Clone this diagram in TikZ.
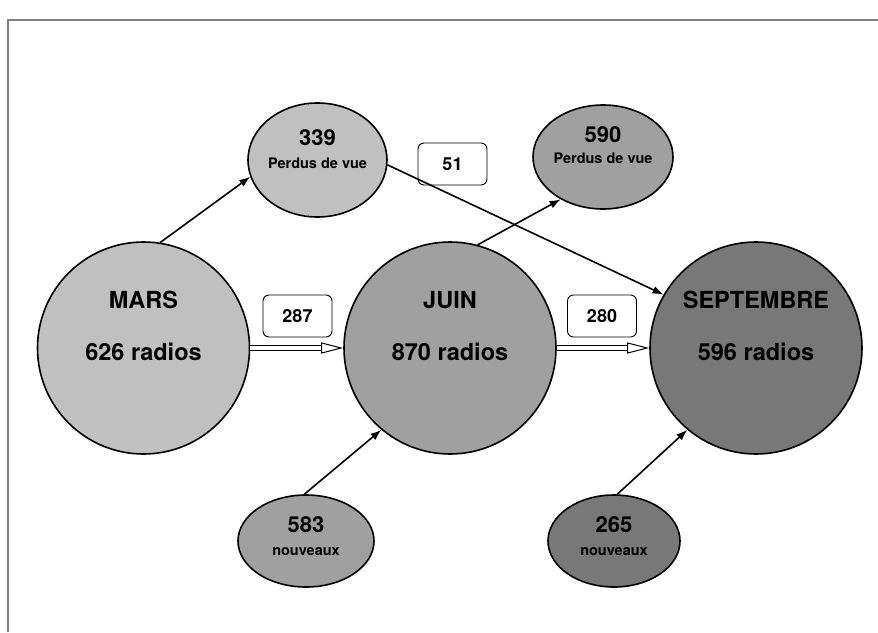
\documentclass[tikz,border=0pt]{standalone}
\usepackage{fontspec}
\setmainfont{TeX Gyre Heros}
\usetikzlibrary{arrows.meta, shapes.geometric}

\definecolor{gris1}{HTML}{C0C0C0}
\definecolor{gris2}{HTML}{A0A0A0}
\definecolor{gris3}{HTML}{787878}

\begin{document}
\begin{tikzpicture}[x = 1pt, y = -1pt,
		mois/.style = {circle, draw, line width = 1.6pt, minimum size = 212pt, inner sep = 0pt},
		flux/.style = {ellipse, draw, line width = 1.6pt, inner sep = 0pt},
		boite/.style = {draw, rounded corners = 6pt, line width = 0.9pt, minimum width = 69pt, minimum height = 42pt, font = \bfseries\fontsize{18}{20}\selectfont},
		gros/.style = {font = \bfseries\fontsize{23.5}{26}\selectfont},
		moyen/.style = {font = \bfseries\fontsize{22}{24}\selectfont},
		petit/.style = {font = \bfseries\fontsize{14.5}{16}\selectfont},
		fleche/.style = {line width = 1.6pt, -{Latex[length = 11pt, width = 8pt]}},
		transfert/.style = {double, double distance = 3.5pt, line width = 1pt, -{Triangle[open, length = 22pt, width = 11pt]}}]
	\useasboundingbox (0,0) rectangle (878,632);
	\draw[gray, line width = 1.2pt] (8,632) -- (8,20) -- (878,20);
	
	\node[mois, fill = gris1] (mars) at (143.5,348) {};
	\node[mois, fill = gris2] (juin) at (450,348) {};
	\node[mois, fill = gris3] (sept) at (756,348) {};
	\node[flux, fill = gris1, minimum width = 139pt, minimum height = 114pt] (perdus1) at (317.5,160) {};
	\node[flux, fill = gris2, minimum width = 140pt, minimum height = 104pt] (perdus2) at (603,157) {};
	\node[flux, fill = gris2, minimum width = 136pt, minimum height = 92pt] (nouv1) at (306,541) {};
	\node[flux, fill = gris3, minimum width = 132pt, minimum height = 92pt] (nouv2) at (614,541) {};
	
	\node[gros] (marsA) at (143.5,300) {MARS};
	\node[gros] (marsB) at (143.5,352) {626 radios};
	\node[gros] (juinA) at (450,300) {JUIN};
	\node[gros] (juinB) at (450,352) {870 radios};
	\node[gros] (septA) at (756,300) {SEPTEMBRE};
	\node[gros] (septB) at (756,352) {596 radios};
	\node[moyen] (perdus1A) at (317.5,138) {339};
	\node[petit] (perdus1B) at (317.5,163) {Perdus de vue};
	\node[moyen] (perdus2A) at (603,135) {590};
	\node[petit] (perdus2B) at (603,158) {Perdus de vue};
	\node[moyen] (nouv1A) at (306,525) {583};
	\node[petit] (nouv1B) at (306,552) {nouveaux};
	\node[moyen] (nouv2A) at (614,525) {265};
	\node[petit] (nouv2B) at (614,552) {nouveaux};
	
	\node[boite] (b287) at (297.5,316) {287};
	\node[boite] (b280) at (602,316) {280};
	\node[boite] (b51) at (452.5,164) {51};
	
	\draw[fleche] (mars.81) -- (perdus1.194);
	\draw[fleche] (perdus1.356) -- (sept.150);
	\draw[fleche] (juin.75) -- (perdus2.225);
	\draw[fleche] (nouv1.92) -- (juin.230);
	\draw[fleche] (nouv2.86) -- (sept.230);
	\draw[transfert] (mars.east) -- (juin.west);
	\draw[transfert] (juin.east) -- (sept.west);
\end{tikzpicture}
\end{document}
